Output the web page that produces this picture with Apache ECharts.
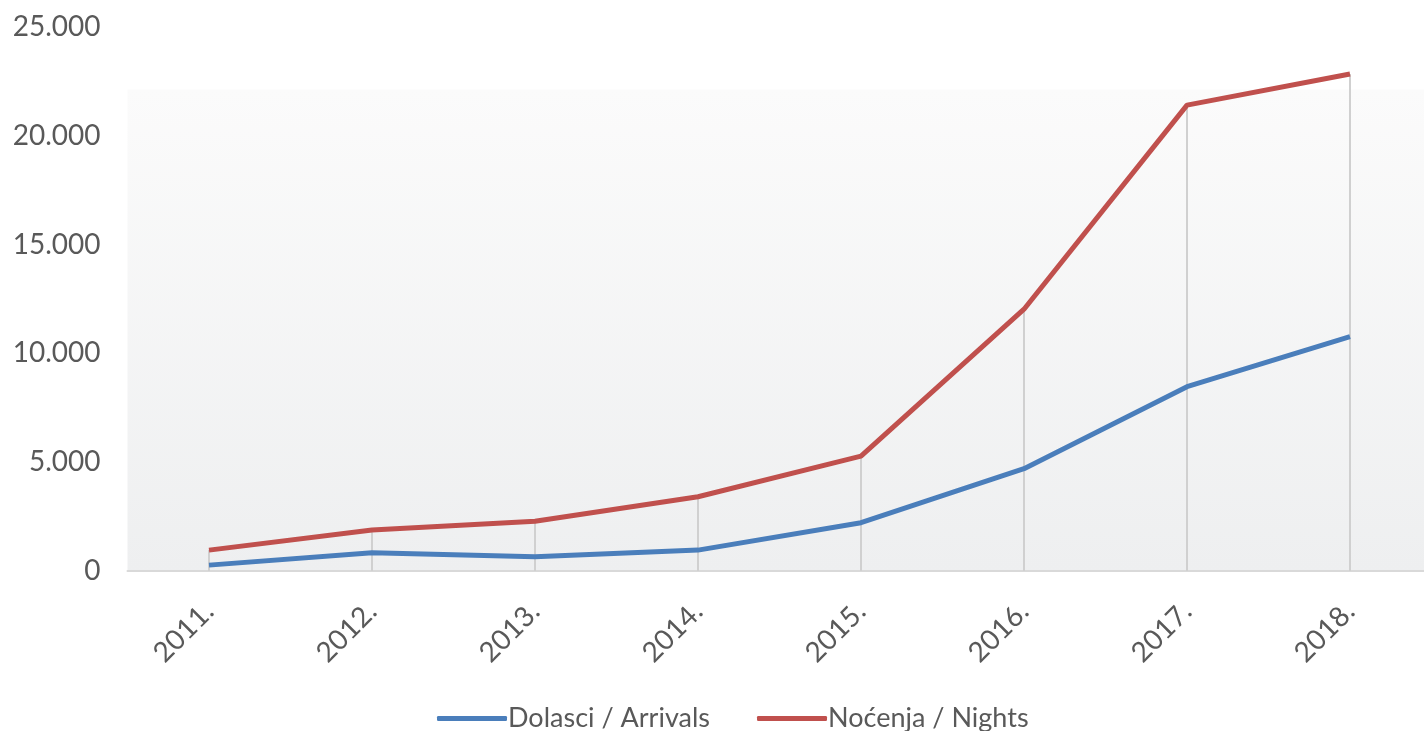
<!DOCTYPE html>
<html>
<head>
<meta charset="utf-8">
<script src="https://cdn.jsdelivr.net/npm/echarts@6/dist/echarts.min.js"></script>
<style>
html,body{margin:0;padding:0;background:#fff;}
#chart{width:1424px;height:731px;}
</style>
</head>
<body>
<div id="chart"></div>
<script>
const years = ['2011.', '2012.', '2013.', '2014.', '2015.', '2016.', '2017.', '2018.'];
const arrivals = [270, 840, 650, 960, 2220, 4700, 8470, 10770];
const nights = [960, 1880, 2290, 3410, 5280, 12030, 21410, 22840];
const yTicks = [0, 5000, 10000, 15000, 20000, 25000];
const seriesNames = ['Dolasci / Arrivals', 'Noćenja / Nights'];

const chart = echarts.init(document.getElementById('chart'));
const font = 'Lato, "Open Sans", sans-serif';
const dropLines = nights.map((v, i) => [{ coord: [i, 0] }, { coord: [i, v] }]);

chart.setOption({
  animation: false,
  textStyle: { fontFamily: font },
  grid: {
    left: 127.5, width: 1304, top: 27, bottom: 160,
    outerBoundsMode: 'none',
    containLabel: false,
    show: true, borderWidth: 0,
    backgroundColor: {
      type: 'linear', x: 0, y: 0, x2: 0, y2: 1,
      colorStops: [
        { offset: 0, color: '#ffffff' },
        { offset: 0.114, color: '#ffffff' },
        { offset: 0.116, color: '#fbfbfb' },
        { offset: 1, color: '#eeeff0' }
      ]
    }
  },
  legend: {
    top: 700, left: 432,
    itemWidth: 70, itemHeight: 5, itemGap: 47,
    icon: 'roundRect',
    textStyle: { fontSize: 27, color: '#595959', fontFamily: font, padding: [0, 0, 0, -4] },
    data: seriesNames
  },
  xAxis: {
    type: 'category',
    data: years,
    boundaryGap: true,
    axisLine: { lineStyle: { color: '#d9d9d9', width: 2 } },
    axisTick: { show: false },
    axisLabel: { rotate: 45, fontSize: 28, color: '#595959', margin: 36, fontFamily: font },
    splitLine: { show: false }
  },
  yAxis: {
    type: 'value',
    min: yTicks[0], max: yTicks[yTicks.length - 1], interval: yTicks[1] - yTicks[0],
    axisLine: { show: false },
    axisTick: { show: false },
    splitLine: { show: false },
    axisLabel: {
      fontSize: 28, color: '#595959', margin: 27, fontFamily: font,
      formatter: v => v === 0 ? '0' : v.toLocaleString('de-DE')
    }
  },
  series: [
    {
      name: seriesNames[0], type: 'line', data: arrivals,
      symbol: 'none', z: 3,
      lineStyle: { color: '#4a7ebb', width: 5 },
      itemStyle: { color: '#4a7ebb' }
    },
    {
      name: seriesNames[1], type: 'line', data: nights,
      symbol: 'none', z: 4,
      lineStyle: { color: '#c0504d', width: 5 },
      itemStyle: { color: '#c0504d' },
      markLine: {
        silent: true, symbol: 'none', z: 1,
        label: { show: false },
        lineStyle: { color: '#d0d0d0', width: 2, type: 'solid' },
        data: dropLines
      }
    }
  ]
});
</script>
</body>
</html>
